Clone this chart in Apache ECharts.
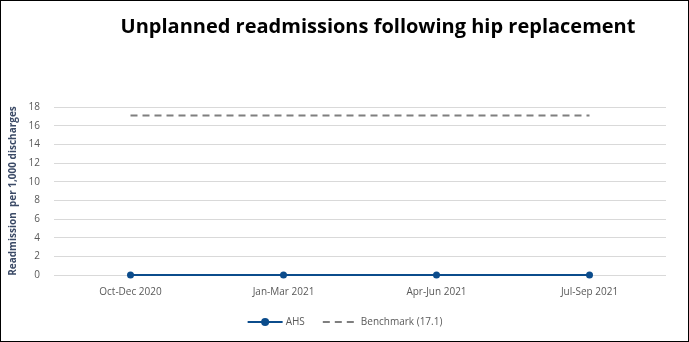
<!DOCTYPE html>
<html>
<head>
<meta charset="utf-8">
<script src="https://cdn.jsdelivr.net/npm/echarts@6/dist/echarts.min.js"></script>
<style>
  html, body { margin: 0; padding: 0; background: #fff; }
  #chart { width: 687px; height: 340px; border: 1px solid #000; }
</style>
</head>
<body>
<div id="chart"></div>
<script>
// Quarterly reporting periods
const quarters = ['Oct-Dec 2020', 'Jan-Mar 2021', 'Apr-Jun 2021', 'Jul-Sep 2021'];
// Readmissions per 1,000 discharges
const ahsValues = [0, 0, 0, 0];
const benchmarkValues = [17.1, 17.1, 17.1, 17.1];
const yTicks = { min: 0, max: 18, interval: 2 };

const chart = echarts.init(document.getElementById('chart'));
chart.setOption({
  animation: false,
  title: {
    text: 'Unplanned readmissions following hip replacement',
    left: 372, top: 11, textAlign: 'center',
    textStyle: { fontFamily: 'Open Sans', fontWeight: 'bold', fontSize: 20, color: '#000' }
  },
  grid: { left: 53, right: 22, top: 106, bottom: 66, outerBoundsMode: 'none', containLabel: false },
  legend: {
    bottom: 9, left: 'center', itemGap: 17, itemWidth: 35, itemHeight: 10,
    textStyle: { fontFamily: 'Open Sans', fontSize: 10, color: '#595959', padding: [0, 0, 0, -2] },
    data: [
      { name: 'AHS' },
      { name: 'Benchmark (17.1)', itemStyle: { opacity: 0 } }
    ]
  },
  xAxis: {
    type: 'category', data: quarters, boundaryGap: true,
    axisLine: { show: false }, axisTick: { show: false },
    axisLabel: { fontFamily: 'Open Sans', fontSize: 10, color: '#595959', margin: 12 }
  },
  yAxis: {
    type: 'value', min: yTicks.min, max: yTicks.max, interval: yTicks.interval,
    name: 'Readmission  per 1,000 discharges', nameLocation: 'middle', nameGap: 36,
    nameTextStyle: { fontFamily: 'Open Sans', fontWeight: 'bold', fontSize: 10, color: '#3b4a66' },
    axisLine: { show: false }, axisTick: { show: false },
    axisLabel: { fontFamily: 'Open Sans', fontSize: 10, color: '#595959', margin: 14 },
    splitLine: { lineStyle: { color: '#d9d9d9', width: 1 } }
  },
  series: [
    {
      name: 'AHS', type: 'line', data: ahsValues,
      symbol: 'circle', symbolSize: 7,
      lineStyle: { color: '#0b4c8c', width: 2 },
      itemStyle: { color: '#0b4c8c' }
    },
    {
      name: 'Benchmark (17.1)', type: 'line', data: benchmarkValues,
      symbol: 'none',
      lineStyle: { color: '#7f7f7f', width: 2, type: [7, 5] },
      itemStyle: { color: '#7f7f7f' }
    }
  ]
});
</script>
</body>
</html>
